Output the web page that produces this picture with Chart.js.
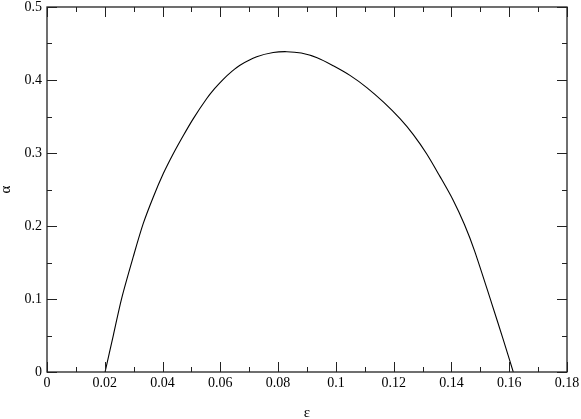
<!DOCTYPE html>
<html>
<head>
<meta charset="utf-8">
<script src="https://cdn.jsdelivr.net/npm/chart.js@4"></script>
<style>
    html, body { margin: 0; padding: 0; background: #fff; }
    #wrap { width: 581px; height: 419px; }
</style>
</head>
<body>
<div id="wrap"><canvas id="AlphaChart" width="581" height="419"></canvas></div>
<script>
// ---------------- Data ----------------
const epsValues   = [0.0201, 0.023, 0.02585, 0.02987, 0.03333, 0.0368, 0.04026, 0.0437, 0.0472, 0.0506,
                     0.0553, 0.058, 0.061, 0.0639, 0.0668, 0.0726, 0.0783, 0.083, 0.088, 0.0935,
                     0.0991, 0.105, 0.1107, 0.1165, 0.1222, 0.1268, 0.1314, 0.136, 0.1406, 0.1445,
                     0.148, 0.1539, 0.1578, 0.1614];
const alphaValues = [0, 0.051, 0.101, 0.158, 0.2035, 0.2398, 0.2718, 0.299, 0.324, 0.3468,
                     0.3746, 0.3881, 0.401, 0.4115, 0.4203, 0.4318, 0.4376, 0.4388, 0.4369, 0.4305,
                     0.4195, 0.406, 0.3896, 0.3696, 0.347, 0.3252, 0.299, 0.268, 0.2353, 0.202,
                     0.166, 0.0944, 0.046, 0];

const xTickValues = [0, 0.02, 0.04, 0.06, 0.08, 0.1, 0.12, 0.14, 0.16, 0.18];
const xTickLabels = ["0", "0.02", "0.04", "0.06", "0.08", "0.1", "0.12", "0.14", "0.16", "0.18"];
const yTickValues = [0, 0.1, 0.2, 0.3, 0.4, 0.5];
const yTickLabels = ["0", "0.1", "0.2", "0.3", "0.4", "0.5"];


// ---------------- Inward ticks + frame ----------------
const frameTicks = {
    id: "frameTicks",
    afterDatasetsDraw(chart) {
        const { ctx, chartArea: a, scales: { x, y } } = chart;
        ctx.save();
        ctx.strokeStyle = "#222";
        ctx.lineWidth = 1;

        const mids = vals => vals.slice(1).map((v, i) => (v + vals[i]) / 2);

        const xt = (v, len) => {
            const px = Math.round(x.getPixelForValue(v)) + 0.5;
            ctx.beginPath();
            ctx.moveTo(px, a.bottom); ctx.lineTo(px, a.bottom - len);
            ctx.moveTo(px, a.top); ctx.lineTo(px, a.top + len);
            ctx.stroke();
        };
        const yt = (v, len) => {
            const py = Math.round(y.getPixelForValue(v)) + 0.5;
            ctx.beginPath();
            ctx.moveTo(a.left, py); ctx.lineTo(a.left + len, py);
            ctx.moveTo(a.right, py); ctx.lineTo(a.right - len, py);
            ctx.stroke();
        };

        xTickValues.forEach(v => xt(v, 10));
        mids(xTickValues).forEach(v => xt(v, 5));
        yTickValues.forEach(v => yt(v, 10));
        mids(yTickValues).forEach(v => yt(v, 5));

        ctx.lineWidth = 1.3;
        ctx.strokeRect(a.left, a.top, a.right - a.left, a.bottom - a.top);
        ctx.restore();
    }
};


// ---------------- Chart ----------------
const serif = "'Liberation Serif', 'Times New Roman', serif";
const points = epsValues.map((e, i) => ({ x: e, y: alphaValues[i] }));

new Chart(document.getElementById("AlphaChart").getContext("2d"), {
    type: "line",
    data: {
        datasets: [{
            data: points,
            borderColor: "#000",
            borderWidth: 1.1,
            pointRadius: 0,
            fill: false,
            tension: 0.3
        }]
    },
    options: {
        responsive: false,
        animation: false,
        layout: { padding: { left: 0, top: 7, right: 14, bottom: 0 } },
        plugins: { legend: { display: false }, tooltip: { enabled: false } },
        scales: {
            x: {
                type: "linear",
                min: 0,
                max: 0.18,
                afterBuildTicks: s => { s.ticks = xTickValues.map(v => ({ value: v })); },
                afterFit: s => { s.height = 47; s.paddingLeft = 0; s.paddingRight = 0; },
                grid: { display: false, drawTicks: false },
                border: { display: false },
                ticks: {
                    padding: 4,
                    color: "#000",
                    maxRotation: 0,
                    font: { family: serif, size: 14, lineHeight: 1 },
                    callback: (v, i) => xTickLabels[i]
                },
                title: {
                    display: true,
                    text: "ε",
                    color: "#000",
                    padding: 0,
                    font: { family: serif, size: 15, lineHeight: 0.8 }
                }
            },
            y: {
                type: "linear",
                min: 0,
                max: 0.5,
                afterBuildTicks: s => { s.ticks = yTickValues.map(v => ({ value: v })); },
                afterFit: s => { s.width = 47; s.paddingTop = 0; s.paddingBottom = 0; },
                grid: { display: false, drawTicks: false },
                border: { display: false },
                ticks: {
                    padding: 5,
                    color: "#000",
                    font: { family: serif, size: 14, lineHeight: 1 },
                    callback: (v, i) => yTickLabels[i]
                },
                title: {
                    display: true,
                    text: "α",
                    color: "#000",
                    padding: 0,
                    font: { family: serif, size: 15, lineHeight: 0.8 }
                }
            }
        }
    },
    plugins: [frameTicks]
});
</script>
</body>
</html>
